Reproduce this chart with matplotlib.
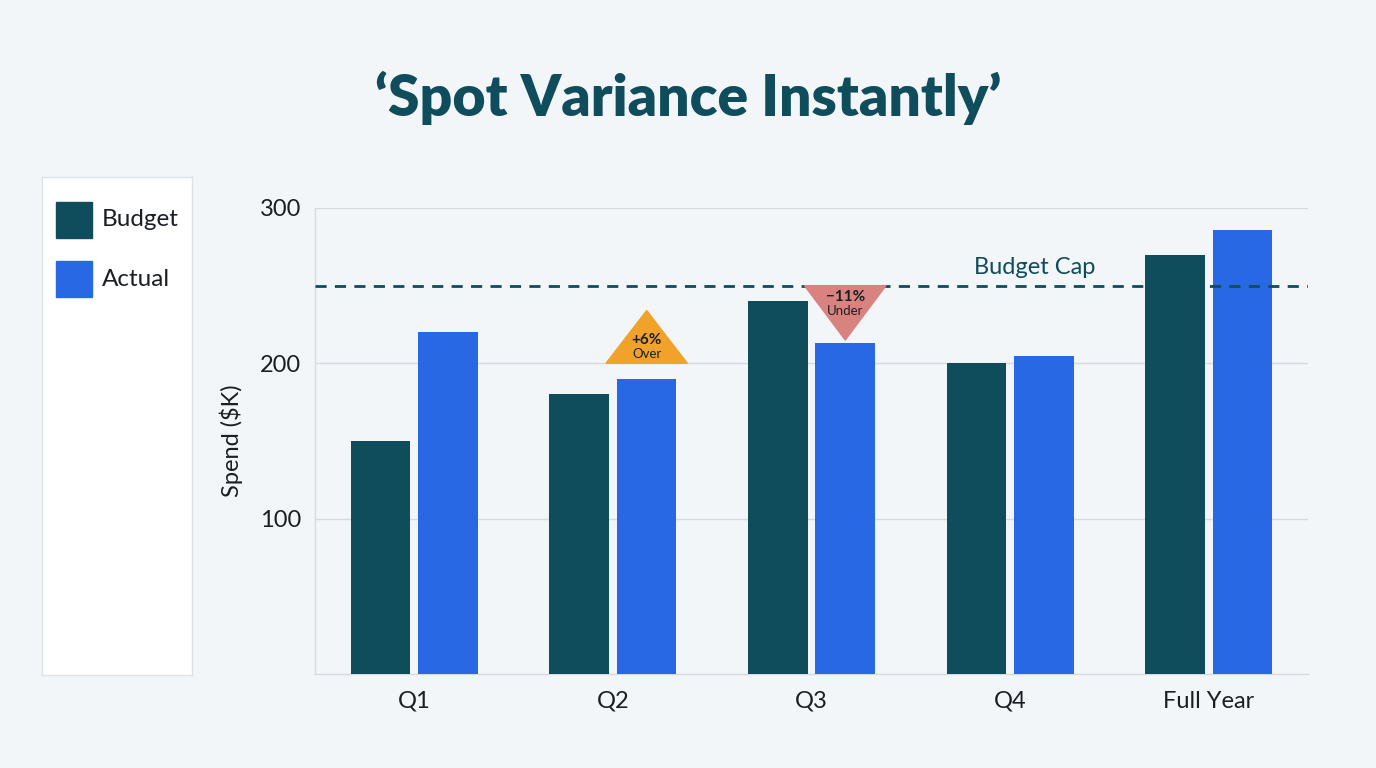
import numpy as np
import matplotlib.pyplot as plt
from matplotlib.patches import Polygon, Rectangle

categories = ['Q1', 'Q2', 'Q3', 'Q4', 'Full Year']
budget = [150, 180, 240, 200, 270]
actual = [220, 190, 213, 205, 286]
budget_cap = 250
yticks = [100, 200, 300]

# variance flags: (category index, label, note)
over_flag = (1, '+6%', 'Over')
under_flag = (2, '\u221211%', 'Under')

BG = '#f2f6f9'
TEAL = '#0f4c5c'
BLUE = '#2968e4'
ORANGE = '#f0a22a'
SALMON = '#d8837f'
GRID = '#d5dbe1'

plt.rcParams['font.family'] = ['Lato', 'DejaVu Sans']

fig = plt.figure(figsize=(13.76, 7.68), dpi=100, facecolor=BG)

fig.text(0.5, 0.873, '\u2018Spot Variance Instantly\u2019', ha='center', va='center',
         fontsize=41, fontweight='heavy', color=TEAL)

# legend panel
lax = fig.add_axes([42 / 1376, 1 - 675 / 768, 150 / 1376, 498 / 768])
lax.set_xlim(0, 150)
lax.set_ylim(498, 0)
lax.set_facecolor('white')
for s in lax.spines.values():
    s.set_color('#dde2e7')
    s.set_linewidth(1)
lax.set_xticks([])
lax.set_yticks([])
for i, (name, col) in enumerate([('Budget', TEAL), ('Actual', BLUE)]):
    yc = 43 + i * 59
    lax.add_patch(Rectangle((14, yc - 18), 36, 36, color=col))
    lax.text(60, yc, name, va='center', ha='left', fontsize=17.5, color='#1b1f24')

ax = fig.add_axes([315 / 1376, 1 - 674 / 768, 993 / 1376, 466 / 768])
ax.set_facecolor(BG)
x = np.arange(len(categories))
w = 0.3
off = 0.17
ax.bar(x - off, budget, w, color=TEAL, zorder=3)
ax.bar(x + off, actual, w, color=BLUE, zorder=3)

ax.set_xlim(-0.5, len(categories) - 0.5)
ax.set_ylim(0, 300)
ax.set_yticks(yticks)
ax.set_xticks(x)
ax.set_xticklabels(categories)
ax.tick_params(length=0, labelsize=17, colors='#1b1f24', pad=12)
ax.tick_params(axis='y', pad=10)
ax.yaxis.grid(True, color=GRID, linewidth=1, zorder=0)
for s in ['top', 'right']:
    ax.spines[s].set_visible(False)
for s in ['left', 'bottom']:
    ax.spines[s].set_color(GRID)
    ax.spines[s].set_linewidth(1)
ax.set_ylabel('Spend ($K)', fontsize=17, color='#1b1f24', labelpad=12)

ax.axhline(budget_cap, color=TEAL, linestyle=(0, (4, 3)), linewidth=2, zorder=4)
ax.text(3.125, budget_cap + 12, 'Budget Cap', ha='center', va='center',
        fontsize=17, color=TEAL)

hw = 0.205
# over flag: upward triangle sitting above the actual bar
i, pct, note = over_flag
xc = i + off
base = actual[i] + 10
tri = Polygon([[xc - hw, base], [xc + hw, base], [xc, base + 34]],
              closed=True, color=ORANGE, zorder=5)
ax.add_patch(tri)
ax.text(xc, base + 15, pct, ha='center', va='center', fontsize=11,
        fontweight='bold', color='#1b1f24', zorder=6)
ax.text(xc, base + 6, note, ha='center', va='center', fontsize=9.5,
        color='#1b1f24', zorder=6)

# under flag: downward triangle hanging from the cap line
i, pct, note = under_flag
xc = i + off
tip = actual[i] + 2
tri = Polygon([[xc - hw, budget_cap], [xc + hw, budget_cap], [xc, tip]],
              closed=True, color=SALMON, zorder=5)
ax.add_patch(tri)
ax.text(xc, budget_cap - 7, pct, ha='center', va='center', fontsize=11,
        fontweight='bold', color='#1b1f24', zorder=6)
ax.text(xc, budget_cap - 16, note, ha='center', va='center', fontsize=9.5,
        color='#1b1f24', zorder=6)

fig.savefig('out.png', dpi=100, facecolor=BG)
